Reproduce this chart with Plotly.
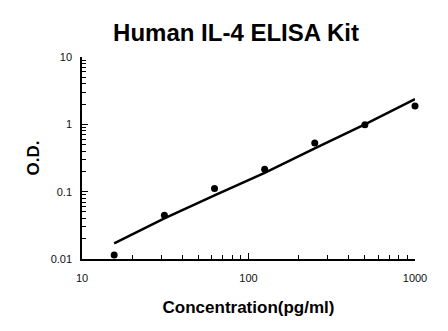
import plotly.graph_objects as go

conc = [15.6, 31.25, 62.5, 125, 250, 500, 1000]
od = [0.0115, 0.0446, 0.111, 0.215, 0.53, 0.99, 1.87]

fit_x = [15.6, 31.25, 62.5, 125, 250, 500, 1000]
fit_y = [0.0171, 0.040, 0.088, 0.19, 0.44, 1.0, 2.36]

x_ticks = [10, 100, 1000]
x_labels = ["10", "100", "1000"]
y_ticks = [0.01, 0.1, 1, 10]
y_labels = ["0.01", "0.1", "1", "10"]

x_minor = [m * 10 ** k for k in (1, 2) for m in range(2, 10)]
y_minor = [m * 10 ** k for k in (-2, -1, 0) for m in range(2, 10)]

font = "Liberation Sans, Arial, sans-serif"

fig = go.Figure()
fig.add_trace(go.Scatter(x=fit_x, y=fit_y, mode="lines", cliponaxis=False,
                         line=dict(color="black", width=2.5), hoverinfo="skip"))
fig.add_trace(go.Scatter(x=conc, y=od, mode="markers", cliponaxis=False,
                         marker=dict(color="black", size=7)))

axis_common = dict(
    type="log", showgrid=False, zeroline=False, showline=True,
    linecolor="black", linewidth=1.5, ticks="inside", ticklen=6,
    tickcolor="black", tickwidth=1.2, mirror=False,
    tickfont=dict(family=font, size=11, color="#111"),
)

fig.update_layout(
    width=448, height=331,
    margin=dict(l=82, r=33, t=57, b=72),
    paper_bgcolor="white", plot_bgcolor="white",
    showlegend=False,
    title=dict(text="<b>Human IL-4 ELISA Kit</b>", x=236 / 448, xanchor="center",
               y=1 - 33 / 331, yanchor="middle",
               font=dict(family=font, size=24, color="black")),
    xaxis=dict(**axis_common, range=[1, 3], tickmode="array", tickvals=x_ticks,
               ticktext=x_labels, ticklabelstandoff=8,
               minor=dict(tickmode="array", tickvals=x_minor, ticks="inside",
                          ticklen=4, tickcolor="black", tickwidth=1, showgrid=False),
               title=dict(text="<b>Concentration(pg/ml)</b>", standoff=18,
                          font=dict(family=font, size=17, color="black"))),
    yaxis=dict(**axis_common, range=[-2, 1], tickmode="array", tickvals=y_ticks,
               ticktext=y_labels, ticklabelstandoff=6,
               minor=dict(tickmode="array", tickvals=y_minor, ticks="inside",
                          ticklen=4, tickcolor="black", tickwidth=1, showgrid=False),
               title=dict(text="<b>O.D.</b>", standoff=7,
                          font=dict(family=font, size=17, color="black"))),
)

fig.write_html("out.html")
